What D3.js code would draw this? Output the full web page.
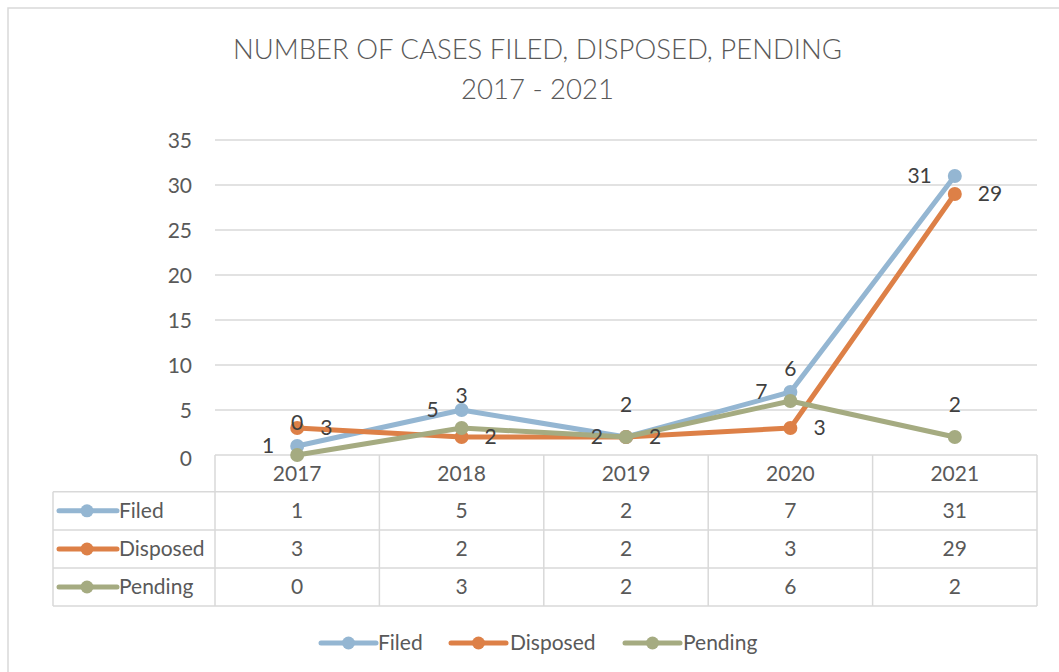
<!DOCTYPE html>
<html>
<head>
<meta charset="utf-8">
<script src="https://cdn.jsdelivr.net/npm/d3@7"></script>
<style>
  html, body { margin: 0; padding: 0; background: #fff; }
  svg { display: block; font-family: Lato, "Open Sans", sans-serif; }
</style>
</head>
<body>
<svg id="chart" width="1059" height="672"></svg>
<script>
const years = ["2017", "2018", "2019", "2020", "2021"];
const filed = [1, 5, 2, 7, 31];
const disposed = [3, 2, 2, 3, 29];
const pending = [0, 3, 2, 6, 2];
const seriesNames = ["Filed", "Disposed", "Pending"];
const seriesColors = ["#94B6D2", "#DD8047", "#A5AB81"];
const yTicks = [0, 5, 10, 15, 20, 25, 30, 35];
const titleLines = ["NUMBER OF CASES FILED, DISPOSED, PENDING", "2017 - 2021"];

const series = [
  { name: seriesNames[0], values: filed, color: seriesColors[0], label: "left" },
  { name: seriesNames[1], values: disposed, color: seriesColors[1], label: "right" },
  { name: seriesNames[2], values: pending, color: seriesColors[2], label: "above" }
];

const svg = d3.select("#chart");
const textColor = "#595959";
const gridColor = "#d9d9d9";
const fs = 21;

svg.append("rect").attr("x", 0).attr("y", 0).attr("width", 1059).attr("height", 672).attr("fill", "#fff");
svg.append("rect").attr("x", 8).attr("y", 8).attr("width", 1070).attr("height", 680)
  .attr("fill", "none").attr("stroke", gridColor).attr("stroke-width", 1.5);

// Title
svg.append("text").attr("x", 537.5).attr("y", 59).attr("text-anchor", "middle")
  .attr("font-size", 28).attr("font-weight", 300).attr("fill", textColor)
  .attr("textLength", 609).attr("lengthAdjust", "spacingAndGlyphs").text(titleLines[0]);
svg.append("text").attr("x", 537.5).attr("y", 99).attr("text-anchor", "middle")
  .attr("font-size", 28).attr("font-weight", 300).attr("fill", textColor)
  .attr("textLength", 153).attr("lengthAdjust", "spacingAndGlyphs").text(titleLines[1]);

const plotLeft = 215, plotRight = 1037, plotTop = 140, plotBottom = 455;
const x = d3.scaleBand().domain(years).range([plotLeft, plotRight]);
const y = d3.scaleLinear().domain([0, 35]).range([plotBottom, plotTop]);
const cx = d => x(d) + x.bandwidth() / 2;

// Gridlines
svg.append("g").selectAll("line").data(yTicks.filter(t => t > 0)).join("line")
  .attr("x1", plotLeft).attr("x2", plotRight)
  .attr("y1", d => y(d)).attr("y2", d => y(d))
  .attr("stroke", gridColor).attr("stroke-width", 1.5);

// Y axis labels
const yAxis = d3.axisLeft(y).tickValues(yTicks).tickSize(0).tickPadding(23);
const yG = svg.append("g").attr("transform", `translate(${plotLeft},0)`).call(yAxis);
yG.select(".domain").remove();
yG.selectAll("text").attr("font-size", fs).attr("fill", textColor).attr("font-family", "Lato, sans-serif")
  .attr("dy", "0.35em");
yG.selectAll(".tick").filter(d => d === 0).select("text").attr("dy", "0.5em");

// Table
const rowYs = [455, 491.7, 530, 568, 606];
const tableLeft = 53;
const tbl = svg.append("g").attr("stroke", gridColor).attr("stroke-width", 1.5);
rowYs.forEach((ry, i) => {
  tbl.append("line").attr("x1", i === 0 ? plotLeft : tableLeft).attr("x2", plotRight)
    .attr("y1", ry).attr("y2", ry);
});
tbl.append("line").attr("x1", tableLeft).attr("x2", tableLeft).attr("y1", rowYs[1]).attr("y2", rowYs[4]);
const colEdges = years.map(d => x(d)).concat([plotRight]);
colEdges.forEach(cxv => {
  tbl.append("line").attr("x1", cxv).attr("x2", cxv).attr("y1", rowYs[0]).attr("y2", rowYs[4]);
});

// header years
svg.append("g").selectAll("text").data(years).join("text")
  .attr("x", d => cx(d)).attr("y", (rowYs[0] + rowYs[1]) / 2).attr("dy", "0.35em")
  .attr("text-anchor", "middle").attr("font-size", fs).attr("fill", textColor).text(d => d);

// rows
series.forEach((s, i) => {
  const rc = (rowYs[i + 1] + rowYs[i + 2]) / 2;
  const g = svg.append("g");
  g.append("line").attr("x1", 59).attr("x2", 117).attr("y1", rc).attr("y2", rc)
    .attr("stroke", s.color).attr("stroke-width", 5).attr("stroke-linecap", "round");
  g.append("circle").attr("cx", 87).attr("cy", rc).attr("r", 6.5).attr("fill", s.color);
  g.append("text").attr("x", 119).attr("y", rc).attr("dy", "0.35em").attr("font-size", fs)
    .attr("fill", textColor).text(s.name);
  g.selectAll("text.v").data(s.values).join("text").attr("class", "v")
    .attr("x", (d, j) => cx(years[j])).attr("y", rc).attr("dy", "0.35em")
    .attr("text-anchor", "middle").attr("font-size", fs).attr("fill", textColor).text(d => d);
});

// Lines and markers
const line = d3.line().x((d, j) => cx(years[j])).y(d => y(d));
series.forEach(s => {
  const g = svg.append("g");
  g.append("path").datum(s.values).attr("d", line).attr("fill", "none")
    .attr("stroke", s.color).attr("stroke-width", 5).attr("stroke-linejoin", "round").attr("stroke-linecap", "round");
  g.selectAll("circle").data(s.values).join("circle")
    .attr("cx", (d, j) => cx(years[j])).attr("cy", d => y(d)).attr("r", 7).attr("fill", s.color);
});

// Data labels
series.forEach(s => {
  svg.append("g").selectAll("text").data(s.values).join("text")
    .attr("x", (d, j) => {
      const px = cx(years[j]);
      return s.label === "left" ? px - 23 : s.label === "right" ? px + 23 : px;
    })
    .attr("y", d => s.label === "above" ? y(d) - 32 : y(d))
    .attr("dy", "0.35em")
    .attr("text-anchor", s.label === "left" ? "end" : s.label === "right" ? "start" : "middle")
    .attr("font-size", fs).attr("fill", "#404040").text(d => d);
});

// Legend
const legendY = 643;
const legendItems = [
  { s: series[0], x1: 321, tx: 378 },
  { s: series[1], x1: 451, tx: 510 },
  { s: series[2], x1: 625, tx: 683 }
];
legendItems.forEach(it => {
  const g = svg.append("g");
  g.append("line").attr("x1", it.x1).attr("x2", it.x1 + 55).attr("y1", legendY).attr("y2", legendY)
    .attr("stroke", it.s.color).attr("stroke-width", 5).attr("stroke-linecap", "round");
  g.append("circle").attr("cx", it.x1 + 27.5).attr("cy", legendY).attr("r", 6.5).attr("fill", it.s.color);
  g.append("text").attr("x", it.tx).attr("y", legendY).attr("dy", "0.35em").attr("font-size", fs)
    .attr("fill", textColor).text(it.s.name);
});
</script>
</body>
</html>
